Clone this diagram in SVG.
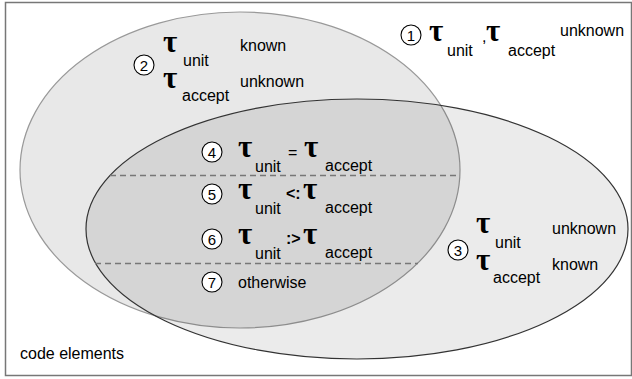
<svg xmlns="http://www.w3.org/2000/svg" width="632" height="379" viewBox="0 0 632 379">
<style>
.t{font-family:"Liberation Sans",Arial,sans-serif;font-size:16px;fill:#000}
.tau{font-family:"Liberation Serif","Times New Roman",serif;font-size:31px;font-weight:bold;fill:#000}
.num{font-family:"Liberation Sans",Arial,sans-serif;font-size:15px;fill:#000;text-anchor:middle}
.c{fill:#fff;stroke:#000;stroke-width:1.1}
.dash{stroke:#777;stroke-width:1.3;stroke-dasharray:6 4;fill:none}
</style>
<rect x="0" y="0" width="632" height="379" fill="#fff"/>
<rect id="frame" x="5.5" y="2.5" width="626" height="373" fill="#fff" stroke="#777" stroke-width="1.5"/>
<g id="setA"><ellipse cx="240" cy="170" rx="220" ry="158" fill="#000" fill-opacity="0.09" stroke="#999" stroke-width="1.2"/></g>
<g id="setB"><ellipse cx="357" cy="229" rx="271" ry="130" fill="#000" fill-opacity="0.08" stroke="#333" stroke-width="1.2"/></g>
<g id="connectors">
<line class="dash" x1="110" y1="175.5" x2="458" y2="175.5"/>
<line class="dash" x1="95" y1="263.5" x2="418" y2="263.5"/>
</g>
<g id="label1">
<circle class="c" cx="411" cy="35" r="10"/><text class="num" x="411" y="40.5">1</text>
<text class="tau" x="429" y="41">τ</text><text class="t" x="447" y="56">unit</text>
<text class="t" x="482" y="42">,</text>
<text class="tau" x="486" y="41">τ</text><text class="t" x="508" y="56">accept</text>
<text class="t" x="560" y="36">unknown</text>
</g>
<g id="label2">
<circle class="c" cx="144" cy="65" r="10"/><text class="num" x="144" y="70.5">2</text>
<text class="tau" x="163" y="52">τ</text><text class="t" x="183" y="66">unit</text>
<text class="t" x="240" y="51">known</text>
<text class="tau" x="163" y="88">τ</text><text class="t" x="182" y="101">accept</text>
<text class="t" x="240" y="87">unknown</text>
</g>
<g id="label3">
<circle class="c" cx="458" cy="250" r="10"/><text class="num" x="458" y="255.5">3</text>
<text class="tau" x="476" y="233">τ</text><text class="t" x="495" y="248">unit</text>
<text class="t" x="552" y="234">unknown</text>
<text class="tau" x="476" y="270">τ</text><text class="t" x="493" y="283">accept</text>
<text class="t" x="552" y="270">known</text>
</g>
<g id="label4">
<circle class="c" cx="212" cy="152" r="10"/><text class="num" x="212" y="157.5">4</text>
<text class="tau" x="238" y="157">τ</text><text class="t" x="255" y="172">unit</text>
<text class="t" x="288" y="158">=</text>
<text class="tau" x="304" y="157">τ</text><text class="t" x="325" y="171">accept</text>
</g>
<g id="label5">
<circle class="c" cx="212" cy="194" r="10"/><text class="num" x="212" y="199.5">5</text>
<text class="tau" x="238" y="199">τ</text><text class="t" x="255" y="214">unit</text>
<text class="t" x="286" y="199" font-weight="bold">&lt;:</text>
<text class="tau" x="303" y="199">τ</text><text class="t" x="325" y="213">accept</text>
</g>
<g id="label6">
<circle class="c" cx="212" cy="239" r="10"/><text class="num" x="212" y="244.5">6</text>
<text class="tau" x="238" y="244">τ</text><text class="t" x="255" y="259">unit</text>
<text class="t" x="286" y="244" font-weight="bold">:&gt;</text>
<text class="tau" x="303" y="244">τ</text><text class="t" x="325" y="258">accept</text>
</g>
<g id="label7">
<circle class="c" cx="212" cy="282" r="10"/><text class="num" x="212" y="287.5">7</text>
<text class="t" x="238" y="288">otherwise</text>
</g>
<g id="caption"><text class="t" x="20" y="359">code elements</text></g>
</svg>
